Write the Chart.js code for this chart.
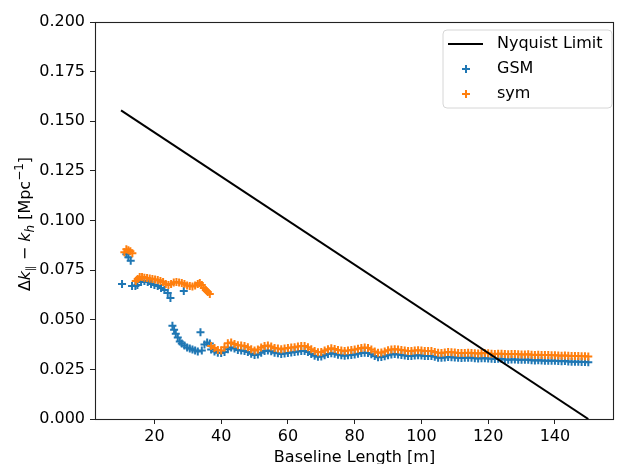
<!DOCTYPE html>
<html>
<head>
<meta charset="utf-8">
<script src="https://cdn.jsdelivr.net/npm/chart.js@4/dist/chart.umd.min.js"></script>
<style>
 html,body{margin:0;padding:0;background:#fff;}
 canvas{display:block;}
</style>
</head>
<body>
<canvas id="chart" width="620" height="464"></canvas>
<script>
// baseline lengths [m] and delta k values
const gsmX=[10.3,11.6,12.2,12.9,13.3,14.3,14.9,16,17,18,19,20,21,22,23,24,24.8,25.4,25.9,26.4,27,27.6,28.2,28.8,29,29.8,30.6,31.4,32.2,33,33.8,34.2,35,35.8,36.6,
 37,38,39,40,41,42,43,44,45,46,47,48,49,50,51,52,53,54,55,56,57,58,59,60,61,62,63,64,65,66,67,68,69,70,71,72,73,74,75,76,77,78,79,80,
 81,82,83,84,85,86,87,88,89,90,91,92,93,94,95,96,97,98,99,100,101,102,103,104,105,106,107,108,109,110,111,112,113,114,115,116,117,118,119,120,
 121,122,123,124,125,126,127,128,129,130,131,132,133,134,135,136,137,138,139,140,141,142,143,144,145,146,147,148,149,150];
const gsmY=[0.068,0.083,0.0815,0.0797,0.067,0.067,0.0675,0.069,0.0695,0.069,0.068,0.0675,0.067,0.066,0.065,0.0635,0.061,0.047,0.045,0.043,0.041,0.039,0.038,0.0645,0.037,0.036,0.0355,0.035,0.0345,0.034,0.0437,0.0345,0.0375,0.0385,0.038,
 0.0350,0.0340,0.0334,0.0333,0.0338,0.0352,0.0360,0.0355,0.0348,0.0345,0.0343,0.0338,0.0329,0.0322,0.0325,0.0334,0.0342,0.0345,0.0341,0.0334,0.0331,0.0328,0.0330,0.0333,
 0.0335,0.0337,0.0340,0.0343,0.0343,0.0337,0.0328,0.0319,0.0313,0.0315,0.0321,0.0327,0.0331,0.0329,0.0324,0.0321,0.0319,0.0321,0.0323,0.0325,
 0.0329,0.0332,0.0334,0.0333,0.0326,0.0317,0.0311,0.0312,0.0316,0.0321,0.0325,0.0327,0.0325,0.0322,0.0320,0.0318,0.0318,0.0320,0.0321,0.0320,
 0.0318,0.0318,0.0317,0.0313,0.0309,0.0308,0.0310,0.0312,0.0311,0.0310,0.0308,0.0307,0.0308,0.0309,0.0308,0.0306,0.0305,0.0306,0.0306,0.0305,
 0.0303,0.0302,0.0303,0.0302,0.0300,0.0299,0.0300,0.0300,0.0299,0.0298,0.0298,0.0298,0.0296,0.0295,0.0296,0.0295,0.0294,0.0294,0.0293,0.0293,
 0.0292,0.0291,0.0292,0.0290,0.0289,0.0289,0.0288,0.0287,0.0287,0.0286];

const symX=[11,11.6,12.2,12.8,13.4,14.4,15,15.6,16.3,17,17.8,18.6,19.4,20.2,21,21.8,22.6,23.4,24.2,25,25.8,26.6,27.4,28.2,29,29.8,30.6,31.4,32.2,33,33.6,34.2,34.8,35.4,36,36.6,
 37,38,39,40,41,42,43,44,45,46,47,48,49,50,51,52,53,54,55,56,57,58,59,60,61,62,63,64,65,66,67,68,69,70,71,72,73,74,75,76,77,78,79,80,
 81,82,83,84,85,86,87,88,89,90,91,92,93,94,95,96,97,98,99,100,101,102,103,104,105,106,107,108,109,110,111,112,113,114,115,116,117,118,119,120,
 121,122,123,124,125,126,127,128,129,130,131,132,133,134,135,136,137,138,139,140,141,142,143,144,145,146,147,148,149,150];
const symY=[0.084,0.0855,0.085,0.0845,0.0835,0.0695,0.0705,0.0715,0.0715,0.0712,0.071,0.0708,0.0705,0.0703,0.070,0.0695,0.069,0.068,0.0675,0.068,0.0688,0.069,0.0688,0.0685,0.068,0.0672,0.067,0.0668,0.0672,0.068,0.0685,0.0675,0.066,0.065,0.064,0.063,
 0.0368,0.0358,0.0347,0.0345,0.0362,0.0382,0.0385,0.0378,0.0372,0.0370,0.0368,0.0362,0.0352,0.0345,0.0350,0.0360,0.0368,0.0370,0.0365,0.0358,0.0355,0.0352,0.0355,0.0358,
 0.0360,0.0362,0.0365,0.0368,0.0368,0.0362,0.0352,0.0342,0.0336,0.0338,0.0345,0.0352,0.0356,0.0353,0.0348,0.0345,0.0343,0.0345,0.0348,0.0350,
 0.0354,0.0358,0.0360,0.0358,0.0350,0.0340,0.0334,0.0335,0.0340,0.0346,0.0350,0.0352,0.0350,0.0347,0.0345,0.0343,0.0343,0.0345,0.0346,0.0345,
 0.0343,0.0343,0.0342,0.0338,0.0334,0.0333,0.0335,0.0337,0.0336,0.0335,0.0333,0.0332,0.0333,0.0334,0.0333,0.0331,0.0330,0.0331,0.0332,0.0331,
 0.0329,0.0328,0.0329,0.0329,0.0327,0.0326,0.0327,0.0327,0.0326,0.0325,0.0325,0.0326,0.0324,0.0323,0.0324,0.0323,0.0322,0.0322,0.0321,0.0321,
 0.0320,0.0319,0.0320,0.0319,0.0318,0.0318,0.0317,0.0316,0.0316,0.0315];

const nyquistX=[10,150];
const nyquistY=[0.1555,0];

const xTicks=[20,40,60,80,100,120,140];
const yTicks=[0,0.025,0.05,0.075,0.1,0.125,0.15,0.175,0.2];

const FONT="'DejaVu Sans', sans-serif";
const BLUE="#1f77b4", ORANGE="#ff7f0e";

const pts=(xs,ys)=>xs.map((x,i)=>({x,y:ys[i]}));

// y label with mathtext-like pieces, x label, frame and legend
const decor={
 id:"decor",
 afterDraw(c){
  const ctx=c.ctx, a=c.chartArea;
  ctx.save();
  ctx.strokeStyle="#222"; ctx.lineWidth=1.1;
  ctx.strokeRect(a.left+0.5,a.top+0.5,a.right-a.left-1,a.bottom-a.top);

  // x title
  ctx.fillStyle="#000";
  ctx.font="16px "+FONT;
  ctx.textAlign="center"; ctx.textBaseline="alphabetic";
  ctx.fillText("Baseline Length [m]",(a.left+a.right)/2,462);

  // y title
  const parts=[
   {t:"Δ",f:"16px",dy:0},
   {t:"k",f:"italic 16px",dy:0},
   {t:"∥",f:"11px",dy:4},
   {t:" − ",f:"16px",dy:0},
   {t:"k",f:"italic 16px",dy:0},
   {t:"h",f:"italic 12px",dy:4},
   {t:" [Mpc",f:"16px",dy:0},
   {t:"−1",f:"12px",dy:-7},
   {t:"]",f:"16px",dy:0}
  ];
  ctx.translate(24,224);
  ctx.rotate(-Math.PI/2);
  ctx.textAlign="left";
  let w=0;
  parts.forEach(p=>{ctx.font=p.f+" "+FONT; p.w=ctx.measureText(p.t).width; w+=p.w;});
  let x=-w/2;
  parts.forEach(p=>{ctx.font=p.f+" "+FONT; ctx.fillText(p.t,x,p.dy+6); x+=p.w;});
  ctx.restore();

  // legend
  ctx.save();
  const bx=443,by=30,bw=169,bh=78,r=4;
  ctx.beginPath();
  ctx.moveTo(bx+r,by); ctx.arcTo(bx+bw,by,bx+bw,by+bh,r); ctx.arcTo(bx+bw,by+bh,bx,by+bh,r);
  ctx.arcTo(bx,by+bh,bx,by,r); ctx.arcTo(bx,by,bx+bw,by,r); ctx.closePath();
  ctx.fillStyle="rgba(255,255,255,0.8)"; ctx.fill();
  ctx.strokeStyle="#d6d6d6"; ctx.lineWidth=1; ctx.stroke();
  ctx.strokeStyle="#000"; ctx.lineWidth=2;
  ctx.beginPath(); ctx.moveTo(448,44); ctx.lineTo(483,44); ctx.stroke();
  [[69,BLUE],[94,ORANGE]].forEach(([y,col])=>{
   ctx.strokeStyle=col; ctx.lineWidth=2;
   ctx.beginPath(); ctx.moveTo(462,y); ctx.lineTo(470,y); ctx.moveTo(466,y-4); ctx.lineTo(466,y+4); ctx.stroke();
  });
  ctx.fillStyle="#000"; ctx.font="16px "+FONT; ctx.textBaseline="middle"; ctx.textAlign="left";
  ctx.fillText("Nyquist Limit",497,44);
  ctx.fillText("GSM",497,69);
  ctx.fillText("sym",497,94);
  ctx.restore();
 }
};

new Chart(document.getElementById("chart"),{
 type:"scatter",
 data:{
  datasets:[
   {label:"Nyquist Limit",data:pts(nyquistX,nyquistY),showLine:true,borderColor:"#000",borderWidth:2,pointRadius:0,order:0},
   {label:"sym",data:pts(symX,symY),pointStyle:"cross",pointRadius:4,borderWidth:2,borderColor:ORANGE,backgroundColor:ORANGE,order:1},
   {label:"GSM",data:pts(gsmX,gsmY),pointStyle:"cross",pointRadius:4,borderWidth:2,borderColor:BLUE,backgroundColor:BLUE,order:2}
  ]
 },
 options:{
  responsive:false,
  animation:false,
  devicePixelRatio:1,
  layout:{padding:{left:0,right:1,top:22,bottom:0}},
  plugins:{legend:{display:false},tooltip:{enabled:false}},
  scales:{
   x:{
    type:"linear",min:2.2,max:157.7,
    afterBuildTicks:s=>{s.ticks=xTicks.map(v=>({value:v}));},
    afterFit:s=>{s.height=45;},
    grid:{drawOnChartArea:false,tickLength:5,color:"#222"},
    border:{display:false},
    ticks:{font:{family:FONT,size:16},color:"#000",padding:3,maxRotation:0}
   },
   y:{
    type:"linear",min:0,max:0.2,
    afterBuildTicks:s=>{s.ticks=yTicks.map(v=>({value:v}));},
    afterFit:s=>{s.width=95;},
    grid:{drawOnChartArea:false,tickLength:5,color:"#222"},
    border:{display:false},
    ticks:{font:{family:FONT,size:16},color:"#000",padding:5,callback:v=>v.toFixed(3)}
   }
  }
 },
 plugins:[decor]
});
</script>
</body>
</html>
